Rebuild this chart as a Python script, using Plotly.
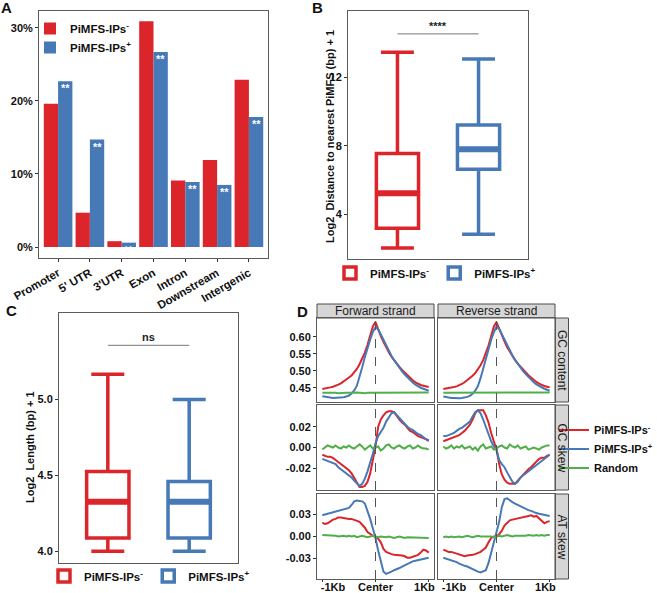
import plotly.graph_objects as go

W, H = 657, 593
FONT = "Liberation Sans, Arial, sans-serif"
RED = "#DC252B"
BLUE = "#4679B6"
GREEN = "#52AE4B"
FRAME = "#5a5a5a"

NEG = "PiMFS-IPs<sup>-</sup>"
POS = "PiMFS-IPs<sup>+</sup>"

# ---- panel A: genomic distribution (%)
categories = ["Promoter", "5' UTR", "3'UTR", "Exon", "Intron", "Downstream", "Intergenic"]
pct_neg = [19.6, 4.7, 0.8, 30.9, 9.1, 11.9, 22.9]
pct_pos = [22.7, 14.7, 0.6, 26.7, 8.9, 8.5, 17.8]
stars_a = ["**"] * 7

# ---- panel B: log2 distance to nearest PiMFS (box stats)
groups = ["neg", "pos"]
dist_lower = [2.03, 2.83]
dist_q1 = [3.18, 6.63]
dist_med = [5.23, 7.81]
dist_q3 = [7.55, 9.23]
dist_upper = [13.49, 13.09]
sig_b = "****"

# ---- panel C: log2 length (box stats)
len_lower = [4.0, 4.0]
len_q1 = [4.088, 4.088]
len_med = [4.326, 4.326]
len_q3 = [4.526, 4.46]
len_upper = [5.168, 5.0]
sig_c = "ns"

# ---- panel D: profiles around PiMFS, bins of 50 bp
pos_bp = list(range(-1000, 1001, 50))

gc_neg_fwd = [0.446, 0.447, 0.449, 0.451, 0.453, 0.455, 0.459, 0.463, 0.468, 0.474, 0.480,
              0.486, 0.494, 0.505, 0.519, 0.534, 0.553, 0.576, 0.603, 0.630, 0.643, 0.621,
              0.602, 0.585, 0.568, 0.554, 0.541, 0.530, 0.520, 0.511, 0.502, 0.494, 0.486,
              0.479, 0.472, 0.466, 0.461, 0.458, 0.456, 0.454, 0.452]
gc_pos_fwd = [0.425, 0.423, 0.422, 0.421, 0.420, 0.420, 0.420, 0.421, 0.422, 0.424, 0.427,
              0.433, 0.442, 0.456, 0.480, 0.510, 0.540, 0.568, 0.592, 0.614, 0.628, 0.622,
              0.606, 0.588, 0.572, 0.558, 0.544, 0.531, 0.519, 0.508, 0.498, 0.489, 0.480,
              0.472, 0.465, 0.459, 0.454, 0.450, 0.447, 0.444, 0.441]
gc_rnd_fwd = [0.435, 0.436, 0.435, 0.435, 0.436, 0.435, 0.434, 0.435, 0.436, 0.435, 0.435,
              0.434, 0.435, 0.436, 0.435, 0.435, 0.434, 0.435, 0.435, 0.436, 0.435, 0.434,
              0.435, 0.435, 0.436, 0.435, 0.435, 0.434, 0.435, 0.436, 0.435, 0.435, 0.435,
              0.434, 0.435, 0.436, 0.435, 0.435, 0.435, 0.436, 0.436]
gc_neg_rev = [0.446, 0.447, 0.448, 0.450, 0.452, 0.454, 0.457, 0.461, 0.466, 0.472, 0.478,
              0.485, 0.493, 0.503, 0.516, 0.531, 0.550, 0.574, 0.601, 0.630, 0.643, 0.622,
              0.603, 0.586, 0.569, 0.555, 0.542, 0.531, 0.521, 0.512, 0.503, 0.495, 0.487,
              0.480, 0.473, 0.467, 0.462, 0.458, 0.455, 0.453, 0.451]
gc_pos_rev = [0.424, 0.422, 0.421, 0.420, 0.420, 0.419, 0.419, 0.420, 0.421, 0.423, 0.426,
              0.432, 0.441, 0.455, 0.478, 0.507, 0.538, 0.566, 0.591, 0.613, 0.630, 0.623,
              0.607, 0.589, 0.573, 0.559, 0.545, 0.532, 0.520, 0.509, 0.499, 0.490, 0.481,
              0.473, 0.466, 0.460, 0.455, 0.451, 0.447, 0.444, 0.441]
gc_rnd_rev = [0.435, 0.435, 0.436, 0.435, 0.434, 0.435, 0.435, 0.436, 0.435, 0.435, 0.434,
              0.435, 0.436, 0.435, 0.435, 0.434, 0.435, 0.436, 0.435, 0.435, 0.435, 0.434,
              0.435, 0.436, 0.435, 0.435, 0.434, 0.435, 0.435, 0.436, 0.435, 0.435, 0.434,
              0.435, 0.435, 0.436, 0.435, 0.435, 0.436, 0.435, 0.436]

gcs_neg_fwd = [-0.007, -0.008, -0.009, -0.009, -0.010, -0.012, -0.014, -0.016, -0.018, -0.020, -0.022,
               -0.025, -0.029, -0.034, -0.038, -0.038, -0.037, -0.033, -0.025, -0.012, 0.001, 0.020,
               0.027, 0.031, 0.034, 0.035, 0.035, 0.034, 0.030, 0.027, 0.024, 0.022, 0.019,
               0.016, 0.015, 0.013, 0.011, 0.010, 0.009, 0.008, 0.007]
gcs_pos_fwd = [-0.011, -0.012, -0.013, -0.014, -0.015, -0.016, -0.019, -0.021, -0.023, -0.025, -0.027,
               -0.029, -0.032, -0.035, -0.037, -0.035, -0.030, -0.023, -0.015, -0.006, 0.004, 0.011,
               0.015, 0.019, 0.025, 0.029, 0.033, 0.034, 0.031, 0.028, 0.025, 0.022, 0.020,
               0.018, 0.017, 0.015, 0.013, 0.012, 0.010, 0.008, 0.006]
gcs_rnd_fwd = [-0.002, 0.000, 0.002, 0.001, 0.000, 0.002, 0.000, -0.001, 0.001, 0.000, 0.002,
               0.000, -0.001, 0.001, 0.003, 0.001, -0.002, 0.000, 0.002, -0.001, 0.000, 0.001,
               -0.003, -0.001, 0.002, 0.003, 0.000, -0.001, 0.001, 0.002, 0.000, -0.001, 0.001,
               0.002, -0.001, 0.000, 0.002, 0.000, -0.001, -0.001, -0.002]
gcs_neg_rev = [0.006, 0.007, 0.008, 0.009, 0.010, 0.011, 0.012, 0.014, 0.016, 0.019, 0.022,
               0.027, 0.033, 0.036, 0.036, 0.036, 0.031, 0.024, 0.014, 0.005, -0.002, -0.016,
               -0.026, -0.031, -0.034, -0.035, -0.035, -0.035, -0.032, -0.029, -0.026, -0.023, -0.021,
               -0.019, -0.016, -0.013, -0.011, -0.010, -0.010, -0.008, -0.007]
gcs_pos_rev = [0.011, 0.011, 0.012, 0.013, 0.014, 0.016, 0.018, 0.019, 0.021, 0.023, 0.025,
               0.030, 0.034, 0.036, 0.033, 0.027, 0.019, 0.013, 0.006, 0.001, -0.002, -0.012,
               -0.016, -0.019, -0.024, -0.029, -0.033, -0.035, -0.033, -0.029, -0.027, -0.025, -0.023,
               -0.021, -0.019, -0.017, -0.015, -0.013, -0.011, -0.009, -0.007]
gcs_rnd_rev = [0.001, -0.001, 0.000, 0.002, -0.001, 0.001, 0.000, 0.002, -0.001, 0.000, 0.001,
               -0.002, 0.000, -0.003, 0.001, 0.003, -0.001, 0.000, 0.001, -0.002, -0.001, 0.001,
               0.002, 0.000, -0.001, 0.003, 0.001, 0.000, 0.002, -0.001, 0.000, 0.001, -0.002,
               -0.001, 0.000, -0.001, -0.002, 0.000, 0.001, 0.002, 0.002]

ats_neg_fwd = [0.019, 0.017, 0.018, 0.021, 0.023, 0.024, 0.026, 0.026, 0.025, 0.025, 0.024,
               0.024, 0.023, 0.022, 0.020, 0.016, 0.012, 0.006, 0.003, 0.001, -0.001, -0.003,
               -0.008, -0.017, -0.021, -0.023, -0.024, -0.025, -0.025, -0.026, -0.026, -0.027, -0.029,
               -0.029, -0.028, -0.026, -0.025, -0.022, -0.018, -0.019, -0.022]
ats_pos_fwd = [0.029, 0.030, 0.030, 0.031, 0.032, 0.033, 0.034, 0.035, 0.036, 0.037, 0.039,
               0.043, 0.048, 0.049, 0.049, 0.048, 0.045, 0.035, 0.024, 0.011, -0.002, -0.019,
               -0.035, -0.048, -0.051, -0.050, -0.048, -0.046, -0.045, -0.043, -0.041, -0.039, -0.037,
               -0.035, -0.034, -0.033, -0.032, -0.031, -0.030, -0.029, -0.029]
ats_rnd_fwd = [0.002, 0.002, 0.001, 0.001, 0.002, 0.001, 0.000, 0.001, 0.001, 0.000, 0.001,
               0.000, 0.001, -0.001, 0.000, 0.001, 0.000, -0.001, 0.000, 0.001, 0.000, -0.001,
               0.000, -0.001, -0.001, 0.000, -0.001, -0.002, -0.001, 0.000, -0.001, -0.002, -0.001,
               -0.001, -0.002, -0.001, -0.002, -0.001, -0.002, -0.002, -0.002]
ats_neg_rev = [-0.018, -0.020, -0.021, -0.021, -0.022, -0.024, -0.025, -0.026, -0.027, -0.026, -0.026,
               -0.025, -0.024, -0.023, -0.021, -0.018, -0.015, -0.008, -0.002, 0.000, 0.000, 0.003,
               0.008, 0.015, 0.019, 0.022, 0.023, 0.024, 0.025, 0.026, 0.027, 0.028, 0.028,
               0.029, 0.027, 0.028, 0.025, 0.021, 0.018, 0.020, 0.021]
ats_pos_rev = [-0.029, -0.030, -0.031, -0.033, -0.034, -0.035, -0.037, -0.039, -0.040, -0.041, -0.043,
               -0.045, -0.047, -0.048, -0.049, -0.048, -0.046, -0.036, -0.022, -0.010, 0.002, 0.020,
               0.040, 0.051, 0.052, 0.049, 0.047, 0.045, 0.043, 0.041, 0.039, 0.037, 0.036,
               0.035, 0.033, 0.032, 0.031, 0.030, 0.030, 0.029, 0.028]
ats_rnd_rev = [-0.001, 0.000, -0.001, 0.000, -0.001, 0.000, 0.000, -0.001, 0.000, 0.001, 0.000,
               -0.001, 0.000, 0.001, 0.000, 0.000, 0.001, 0.000, 0.000, -0.001, 0.000, 0.001,
               0.000, 0.001, 0.002, 0.001, 0.000, 0.001, 0.001, 0.000, 0.001, 0.001, 0.002,
               0.001, 0.001, 0.002, 0.001, 0.002, 0.001, 0.002, 0.002]

strand_labels = ["Forward strand", "Reverse strand"]
metric_labels = ["GC content", "GC skew", "AT skew"]
metric_ranges = [[0.408, 0.655], [-0.041, 0.041], [-0.058, 0.058]]
metric_ticks = [[0.45, 0.50, 0.55, 0.60], [-0.02, 0.0, 0.02], [-0.03, 0.0, 0.03]]
metric_ticktext = [["0.45", "0.50", "0.55", "0.60"], ["-0.02", "0.00", "0.02"], ["-0.03", "0.00", "0.03"]]
pos_ticks = [-1000, 0, 1000]
pos_ticktext = ["-1Kb", "Center", "1Kb"]
pos_label_at = [-800, 0, 920]   # ggplot draws the end labels pulled inwards
profiles = [
    [(gc_neg_fwd, gc_pos_fwd, gc_rnd_fwd), (gc_neg_rev, gc_pos_rev, gc_rnd_rev)],
    [(gcs_neg_fwd, gcs_pos_fwd, gcs_rnd_fwd), (gcs_neg_rev, gcs_pos_rev, gcs_rnd_rev)],
    [(ats_neg_fwd, ats_pos_fwd, ats_rnd_fwd), (ats_neg_rev, ats_pos_rev, ats_rnd_rev)],
]


def fx(p):
    return p / W


def fy(p):
    return 1 - p / H


def tick_font(size=11):
    return dict(family=FONT, size=size, color="#111", weight="bold")


def frame_axis(**kw):
    ax = dict(showline=True, mirror=True, linecolor=FRAME, linewidth=1, showgrid=False,
              zeroline=False, ticks="outside", ticklen=3, tickcolor="#333",
              tickfont=tick_font(), automargin=False)
    ax.update(kw)
    return ax


fig = go.Figure()
layout = {}
shapes = []
annotations = []

# ---------------- A
a_dom = (39, 268)
a_range = [-0.6, 6.6]
bar_gap = 0.1
fig.add_trace(go.Bar(x=categories, y=pct_neg, name=NEG, marker=dict(color=RED, line_width=0),
                     xaxis="x", yaxis="y", legend="legend", hoverinfo="skip"))
fig.add_trace(go.Bar(x=categories, y=pct_pos, name=POS, marker=dict(color=BLUE, line_width=0),
                     xaxis="x", yaxis="y", legend="legend", hoverinfo="skip"))
layout["xaxis"] = frame_axis(domain=[fx(a_dom[0]), fx(a_dom[1])], anchor="y", range=a_range, tickangle=-30,
                             tickfont=tick_font(11.5))
layout["yaxis"] = frame_axis(domain=[fy(258), fy(11)], anchor="x", range=[-1.5, 32.3],
                             tickvals=[0, 10, 20, 30], ticktext=["0%", "10%", "20%", "30%"])
# "**" marks sit at the top of each blue bar (right half of the group)
px_per_cat = (a_dom[1] - a_dom[0]) / (a_range[1] - a_range[0])
half_offset = px_per_cat * (1 - bar_gap) / 4
for cat, val, s in zip(categories, pct_pos, stars_a):
    annotations.append(dict(xref="x", yref="y", x=cat, y=val, text=s, showarrow=False,
                            xanchor="center", yanchor="top", xshift=half_offset, yshift=1,
                            font=dict(family=FONT, size=11, color="white", weight="bold")))

# ---------------- B and C (box plots)
def add_boxes(xa, ya, leg, lower, q1, med, q3, upper):
    for i, (col, name) in enumerate([(RED, NEG), (BLUE, POS)]):
        fig.add_trace(go.Box(x=[groups[i]], lowerfence=[lower[i]], q1=[q1[i]], median=[med[i]],
                             q3=[q3[i]], upperfence=[upper[i]], name=name, boxpoints=False,
                             line=dict(color=col, width=3.5), fillcolor="white", width=0.52,
                             whiskerwidth=0.78, xaxis=xa, yaxis=ya, legend=leg, hoverinfo="skip"))
        # thicker median bar, as in the original
        fig.add_trace(go.Box(x=[groups[i]], lowerfence=[med[i]], q1=[med[i]], median=[med[i]],
                             q3=[med[i]], upperfence=[med[i]], boxpoints=False, showlegend=False,
                             line=dict(color=col, width=6), fillcolor="white", width=0.52,
                             whiskerwidth=0, xaxis=xa, yaxis=ya, hoverinfo="skip"))


add_boxes("x2", "y2", "legend2", dist_lower, dist_q1, dist_med, dist_q3, dist_upper)
add_boxes("x3", "y3", "legend3", len_lower, len_q1, len_med, len_q3, len_upper)

layout["xaxis2"] = frame_axis(domain=[fx(348), fx(528)], anchor="y2", type="category",
                              categoryarray=groups, range=[-0.61, 1.61], showticklabels=False, ticks="")
layout["yaxis2"] = frame_axis(domain=[fy(259), fy(11)], anchor="x2", range=[1.38, 15.9],
                              tickvals=[4, 8, 12])
layout["xaxis3"] = frame_axis(domain=[fx(59), fx(238)], anchor="y3", type="category",
                              categoryarray=groups, range=[-0.6, 1.6], showticklabels=False, ticks="")
layout["yaxis3"] = frame_axis(domain=[fy(563), fy(313)], anchor="x3", range=[3.923, 5.571],
                              tickvals=[4.0, 4.5, 5.0], ticktext=["4.0", "4.5", "5.0"])

for xa, ya, ytop, label in [("x2", "y2", max(dist_upper) + 1.07, sig_b),
                            ("x3", "y3", max(len_upper) + 0.19, sig_c)]:
    shapes.append(dict(type="line", xref=xa, yref=ya, x0=0, x1=1, y0=ytop, y1=ytop,
                       line=dict(color="#777", width=1)))
    annotations.append(dict(xref=xa, yref=ya, x=0.5, y=ytop, text=label, showarrow=False,
                            yanchor="bottom", xanchor="center",
                            font=dict(family=FONT, size=11, color="#222", weight="bold")))

annotations.append(dict(xref="paper", yref="paper", x=fx(330), y=fy(137), textangle=-90,
                        xanchor="center", yanchor="middle",
                        text="Log2\u00a0 Distance to nearest PiMFS (bp) + 1", showarrow=False,
                        font=dict(family=FONT, size=11, color="#111", weight="bold")))
annotations.append(dict(xref="paper", yref="paper", x=fx(30), y=fy(447), textangle=-90,
                        xanchor="center", yanchor="middle",
                        text="Log2\u00a0 Length (bp) + 1", showarrow=False,
                        font=dict(family=FONT, size=11, color="#111", weight="bold")))

# ---------------- D (faceted profiles)
col_px = [(317, 434), (438, 555)]
row_px = [(318, 402), (405, 490), (494, 579)]
n = 4
extra = 10
for r in range(3):
    for c in range(2):
        xa, ya = f"x{n}", f"y{n}"
        neg, pos, rnd = profiles[r][c]
        for vals, col, name in [(neg, RED, NEG), (pos, BLUE, POS), (rnd, GREEN, "Random")]:
            fig.add_trace(go.Scatter(x=pos_bp, y=vals, mode="lines", name=name,
                                     line=dict(color=col, width=2), xaxis=xa, yaxis=ya,
                                     legend="legend4", showlegend=(r == 0 and c == 0),
                                     hoverinfo="skip"))
        last_row = r == 2
        dom = [fx(col_px[c][0]), fx(col_px[c][1])]
        layout[f"xaxis{n}"] = frame_axis(domain=dom, anchor=ya, range=[-1100, 1100], tickvals=pos_ticks,
                                         ticklen=2, showticklabels=False,
                                         ticks="outside" if last_row else "")
        layout[f"yaxis{n}"] = frame_axis(domain=[fy(row_px[r][1]), fy(row_px[r][0])], anchor=xa,
                                         range=metric_ranges[r], tickvals=metric_ticks[r],
                                         ticktext=metric_ticktext[r],
                                         showticklabels=(c == 0), ticks="outside" if c == 0 else "")
        if last_row:
            # label-only axis laid over the bottom panels
            layout[f"xaxis{extra}"] = dict(domain=dom, anchor=ya, overlaying=xa, range=[-1100, 1100],
                                           tickvals=pos_label_at, ticktext=pos_ticktext, ticks="",
                                           showline=False, showgrid=False, zeroline=False,
                                           tickfont=tick_font(), automargin=False, side="bottom",
                                           ticklabelstandoff=0)
            fig.add_trace(go.Scatter(x=[None], y=[None], xaxis=f"x{extra}", yaxis=ya,
                                     showlegend=False, hoverinfo="skip"))
            extra += 1
        shapes.append(dict(type="line", xref=xa, yref=f"{ya} domain", x0=0, x1=0, y0=0, y1=1,
                           line=dict(color="#555", width=1, dash="dash")))
        n += 1

strip_font = dict(family=FONT, size=12, color="#1a1a1a")
for c, lab in enumerate(strand_labels):
    shapes.append(dict(type="rect", xref="paper", yref="paper", x0=fx(col_px[c][0]), x1=fx(col_px[c][1]),
                       y0=fy(318), y1=fy(304), fillcolor="#D6D6D6", line=dict(color="#4d4d4d", width=1),
                       layer="below"))
    annotations.append(dict(xref="paper", yref="paper", x=fx(sum(col_px[c]) / 2), y=fy(311), text=lab,
                            xanchor="center", yanchor="middle", showarrow=False, font=strip_font))
for r, lab in enumerate(metric_labels):
    shapes.append(dict(type="rect", xref="paper", yref="paper", x0=fx(555), x1=fx(568.5),
                       y0=fy(row_px[r][1]), y1=fy(row_px[r][0]), fillcolor="#D6D6D6",
                       line=dict(color="#4d4d4d", width=1), layer="below"))
    annotations.append(dict(xref="paper", yref="paper", x=fx(562), y=fy(sum(row_px[r]) / 2), text=lab,
                            xanchor="center", yanchor="middle", textangle=90, showarrow=False,
                            font=strip_font))

# panel letters
for lab, x, y in [("A", 6, 8), ("B", 317, 8), ("C", 11, 310), ("D", 302, 311)]:
    annotations.append(dict(xref="paper", yref="paper", x=fx(x), y=fy(y), text=lab, showarrow=False,
                            xanchor="center", yanchor="middle",
                            font=dict(family=FONT, size=15, color="#111", weight="bold")))

leg_font = dict(family=FONT, size=11.5, color="#111", weight="bold")
layout["legend"] = dict(x=fx(30), y=fy(14), xanchor="left", yanchor="top", font=leg_font,
                        bgcolor="rgba(0,0,0,0)", itemwidth=30, tracegroupgap=0)
layout["legend2"] = dict(x=fx(330), y=fy(273), xanchor="left", yanchor="middle", orientation="h",
                         font=leg_font, bgcolor="rgba(0,0,0,0)", itemwidth=30)
layout["legend3"] = dict(x=fx(44), y=fy(576), xanchor="left", yanchor="middle", orientation="h",
                         font=leg_font, bgcolor="rgba(0,0,0,0)", itemwidth=30)
layout["legend4"] = dict(x=fx(554), y=fy(449), xanchor="left", yanchor="middle",
                         font=dict(family=FONT, size=11, color="#111", weight="bold"),
                         bgcolor="rgba(0,0,0,0)", itemwidth=30)

fig.update_layout(**layout)
fig.update_layout(width=W, height=H, margin=dict(l=0, r=0, t=0, b=0, autoexpand=False), autosize=False,
                  plot_bgcolor="white", paper_bgcolor="white", barmode="group", bargap=bar_gap,
                  bargroupgap=0, boxmode="overlay", shapes=shapes, annotations=annotations,
                  font=dict(family=FONT), showlegend=True)

fig.write_html("out.html", config={"displayModeBar": False},
               post_script="document.body.style.margin='0px';")
